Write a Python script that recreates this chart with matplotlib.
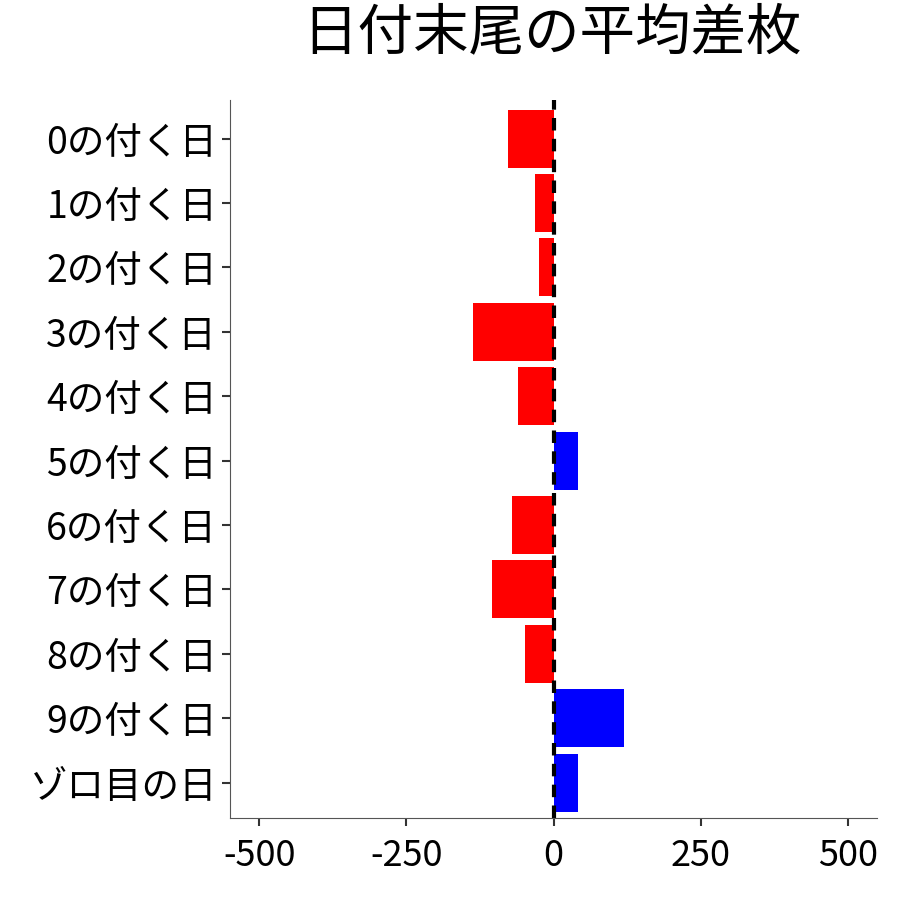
import matplotlib
matplotlib.use("Agg")
import matplotlib.pyplot as plt

plt.rcParams['font.family'] = ['Noto Sans CJK JP', 'DejaVu Sans']

categories = ["0の付く日", "1の付く日", "2の付く日", "3の付く日", "4の付く日", "5の付く日",
              "6の付く日", "7の付く日", "8の付く日", "9の付く日", "ゾロ目の日"]
values = [-78, -32, -24, -136, -60, 42, -71, -105, -49, 119, 42]
xticks = [-500, -250, 0, 250, 500]

fig = plt.figure(figsize=(9, 9), dpi=100)
ax = fig.add_axes([0.256, 0.091, 0.718, 0.798])
pos = list(range(len(categories)))
colors = ["blue" if v > 0 else "red" for v in values]
ax.barh(pos, values, height=0.9, color=colors)
ax.axvline(0, color="black", linestyle=(0, (3, 2)), linewidth=3)
ax.set_yticks(pos)
ax.set_yticklabels(categories, fontsize=27)
ax.set_xticks(xticks)
ax.set_xticklabels([str(t) for t in xticks], fontsize=26)
ax.set_xlim(-549, 549)
ax.set_ylim(len(categories) - 0.45, -0.6)
for s in ["top", "right"]:
    ax.spines[s].set_visible(False)
for s in ["left", "bottom"]:
    ax.spines[s].set_color("#555555")
ax.tick_params(axis="both", color="#333333", length=6, width=1.5)
ax.tick_params(axis="x", pad=8)
fig.suptitle("日付末尾の平均差枚", fontsize=40, x=0.613, y=0.995)
fig.savefig("out.png", dpi=100)
